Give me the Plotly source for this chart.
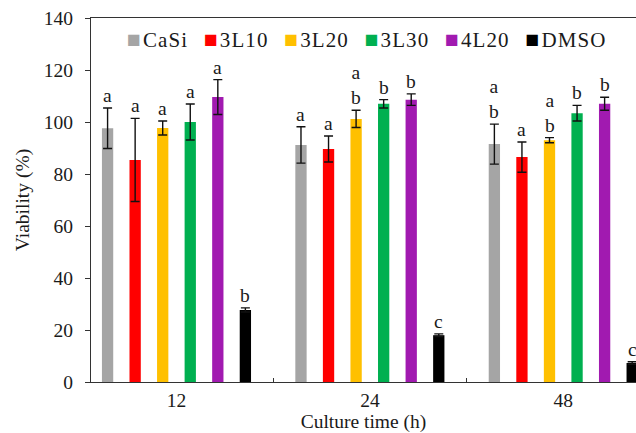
import plotly.graph_objects as go

categories = ["12", "24", "48"]
series_names = ["CaSi", "3L10", "3L20", "3L30", "4L20", "DMSO"]
colors = ["#A5A5A5", "#FF0000", "#FFC000", "#00B050", "#A11AB0", "#000000"]

casi = [97.6, 91.2, 91.5]
l310 = [85.4, 89.6, 86.5]
l320 = [97.7, 101.2, 93.0]
l330 = [100.0, 107.0, 103.4]
l420 = [109.6, 108.6, 107.0]
dmso = [27.7, 18.0, 7.3]

casi_err = [7.8, 7.0, 7.7]
l310_err = [16.0, 5.0, 5.8]
l320_err = [2.7, 3.3, 1.0]
l330_err = [6.9, 1.6, 3.0]
l420_err = [6.7, 2.2, 2.5]
dmso_err = [0.8, 0.5, 0.5]

casi_lbl = ["a", "a", "a<br>b"]
l310_lbl = ["a", "a", "a"]
l320_lbl = ["a", "a<br>b", "a<br>b"]
l330_lbl = ["a", "b", "b"]
l420_lbl = ["a", "b", "b"]
dmso_lbl = ["b", "c", "c"]

values = [casi, l310, l320, l330, l420, dmso]
errors = [casi_err, l310_err, l320_err, l330_err, l420_err, dmso_err]
labels = [casi_lbl, l310_lbl, l320_lbl, l330_lbl, l420_lbl, dmso_lbl]

FONT = "Liberation Serif"
FS = 19.5
LEG_FS = 21
BARGAP = 0.145
GROUPGAP = 0.59
AXC = "#333333"
TXT = "#1a1a1a"

fig = go.Figure()
for name, col, v, e in zip(series_names, colors, values, errors):
    fig.add_trace(go.Bar(
        x=categories, y=v, name=name, marker=dict(color=col, line=dict(width=0)),
        error_y=dict(type="data", array=e, visible=True, color="#111111",
                     thickness=1.4, width=4.5),
        showlegend=False,
    ))

n = len(series_names)
slot = (1 - BARGAP) / n
annotations = []
for si, (v, e, lb) in enumerate(zip(values, errors, labels)):
    for gi in range(len(categories)):
        annotations.append(dict(
            x=gi + (si - (n - 1) / 2) * slot, y=v[gi] + e[gi],
            xref="x", yref="y", text=lb[gi], showarrow=False,
            yanchor="bottom", xanchor="center", yshift=0,
            font=dict(family=FONT, size=FS, color=TXT),
        ))

legend_parts = []
for name, col in zip(series_names, colors):
    legend_parts.append(
        f"<span style='color:{col};font-size:23px'>■</span>"
        f"<span style='font-size:8px'>\u00a0</span>"
        f"<span style='letter-spacing:1.1px'>{name}</span>")
legend_text = "\u00a0\u00a0\u00a0".join(legend_parts)
annotations.append(dict(
    x=0.062, y=0.94, xref="paper", yref="paper", xanchor="left",
    yanchor="middle", text=legend_text, showarrow=False,
    font=dict(family=FONT, size=LEG_FS, color=TXT),
))

fig.update_layout(
    width=636, height=433,
    margin=dict(l=91, r=0, t=18, b=51),
    paper_bgcolor="white", plot_bgcolor="white",
    barmode="group", bargap=BARGAP, bargroupgap=GROUPGAP,
    font=dict(family=FONT, size=FS, color=TXT),
    annotations=annotations,
    showlegend=False,
)
fig.update_xaxes(
    type="category", range=[-0.442, 2.376],
    showline=True, linecolor=AXC, linewidth=1.3, mirror=True,
    ticks="inside", tickson="boundaries", ticklen=4, tickcolor=AXC, tickwidth=1.3,
    showgrid=False, zeroline=False,
    tickfont=dict(family=FONT, size=FS, color=TXT),
    title=dict(text="Culture time (h)", font=dict(family=FONT, size=FS, color=TXT),
               standoff=2),
)
fig.update_yaxes(
    range=[0, 140], dtick=20,
    showline=True, linecolor=AXC, linewidth=1.3,
    ticks="outside", ticklen=5, tickcolor=AXC, tickwidth=1.3,
    showgrid=False, zeroline=False,
    tickfont=dict(family=FONT, size=FS, color=TXT),
    ticklabelstandoff=8,
    title=dict(text="Viability (%)", font=dict(family=FONT, size=FS, color=TXT),
               standoff=8),
)

fig.write_html("out.html", post_script="document.body.style.margin='0px';",
               config={"displayModeBar": False})
